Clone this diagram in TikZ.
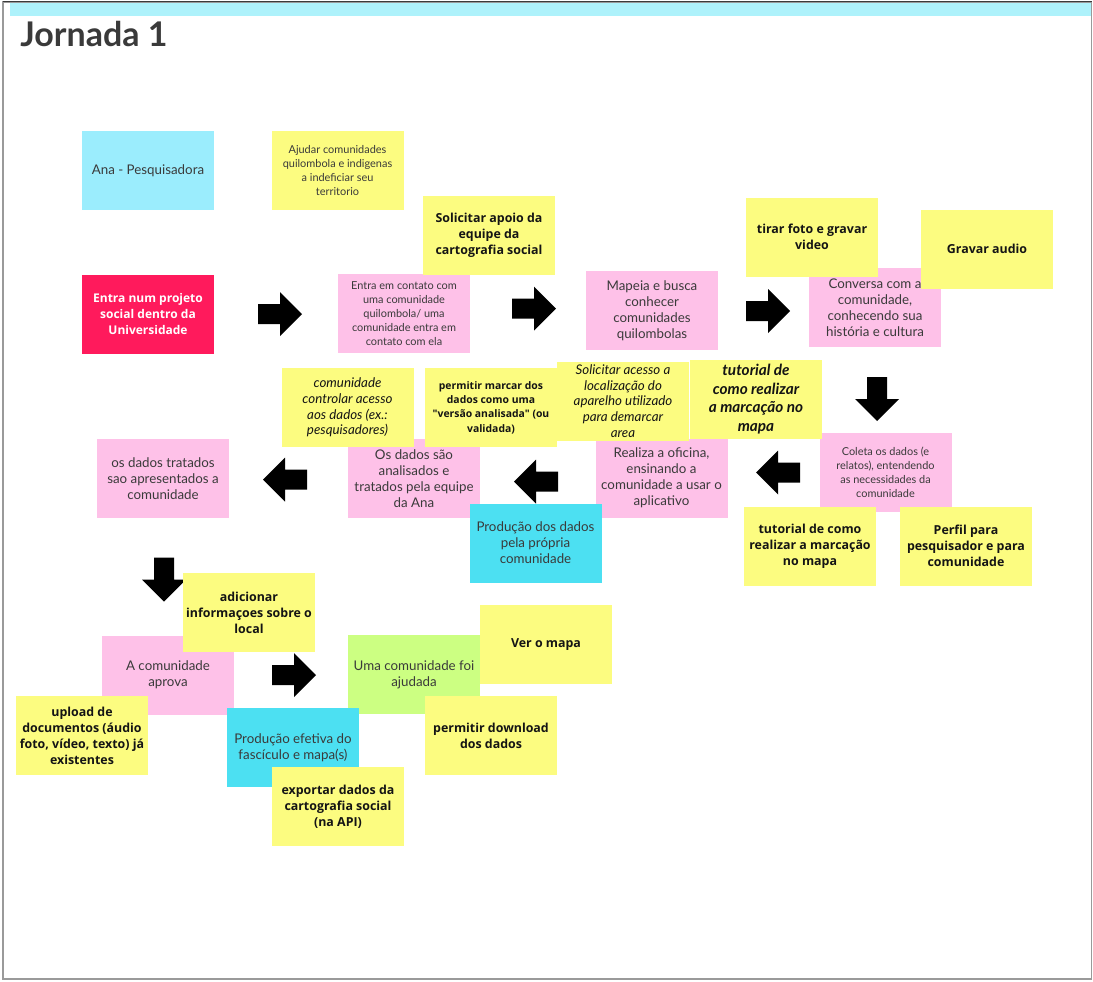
\documentclass[tikz,border=0pt]{standalone}
\usepackage{fontspec}
\setmainfont{Lato}
\newfontfamily\boldfam{Open Sans}
\definecolor{noteyellow}{HTML}{FCFC80}
\definecolor{notepink}{HTML}{FEC1E8}
\definecolor{notered}{HTML}{FF1A5C}
\definecolor{notelcyan}{HTML}{9BEDFD}
\definecolor{notecyan}{HTML}{4CE0F2}
\definecolor{notegreen}{HTML}{CCFF82}
\definecolor{bandcyan}{HTML}{AEF2FB}
\definecolor{framegray}{HTML}{9A9A9A}
\definecolor{txtgray}{HTML}{3A3A3A}
\definecolor{txtdark}{HTML}{141414}
\tikzset{
  note/.style={rectangle, inner sep=0pt, minimum width=99pt, minimum height=59.25pt, align=center, text=txtgray},
  yel/.style={note, fill=noteyellow},
  pnk/.style={note, fill=notepink},
  fnorm/.style={font=\fontsize{10}{12}\selectfont},
  fsmall/.style={font=\fontsize{8.2}{10.5}\selectfont},
  fbold/.style={text=txtdark, font=\boldfam\fontsize{9.3}{12}\selectfont\bfseries},
  fboldsmall/.style={text=txtdark, font=\boldfam\fontsize{7.8}{10.8}\selectfont\bfseries},
  fhand/.style={text=txtdark, font=\fontsize{10}{11.8}\selectfont\itshape},
  fhandbig/.style={text=txtdark, font=\fontsize{11.5}{14}\selectfont\bfseries\itshape},
  barrow/.pic={\fill[black] (-22,-10) -- (0,-10) -- (0,-22) -- (22,0) -- (0,22) -- (0,10) -- (-22,10) -- cycle;}
}
\begin{document}
\begin{tikzpicture}[x=0.75pt,y=-0.75pt]
\useasboundingbox (0,0) rectangle (1093,982);
% frame
\fill[bandcyan] (10,2) rectangle (1091,16);
\draw[framegray, line width=1.2pt] (3,2) rectangle (1091.5,979);
\draw[txtgray, line width=1pt] (3,1.5) -- (1091.5,1.5);
\node[anchor=west, inner sep=0pt, text=txtgray, font=\fontsize{25.5}{30}\selectfont\bfseries] (title) at (20,34) {Jornada 1};

% base notes
\node[note, fill=notelcyan, fnorm] (ana) at (148,170.5) {Ana - Pesquisadora};
\node[yel, fsmall] (ajudar) at (337.5,170.5) {Ajudar comunidades\\quilombola e indigenas\\a indeficiar seu\\territorio};
\node[note, fill=notered, text=white, font=\boldfam\fontsize{9}{12}\selectfont\bfseries] (entra) at (148,314) {Entra num projeto\\social dentro da\\Universidade};
\node[pnk, fsmall] (contato) at (404,313.5) {Entra em contato com\\uma comunidade\\quilombola/ uma\\comunidade entra em\\contato com ela};
\node[pnk, fnorm] (mapeia) at (652,310.5) {Mapeia e busca\\conhecer\\comunidades\\quilombolas};
\node[pnk, fnorm] (conversa) at (875,307.5) {Conversa com a\\comunidade,\\conhecendo sua\\história e cultura};
\node[pnk, fsmall] (coleta) at (885.5,472.5) {Coleta os dados (e\\relatos), entendendo\\as necessidades da\\comunidade};
\node[pnk, fnorm] (realiza) at (661.5,478) {Realiza a oficina,\\ensinando a\\comunidade a usar o\\aplicativo};
\node[pnk, fnorm] (osdados) at (414,478.5) {Os dados são\\analisados e\\tratados pela equipe\\da Ana};
\node[pnk, fnorm] (tratados) at (163,478.5) {os dados tratados\\sao apresentados a\\comunidade};
\node[pnk, fnorm] (aprova) at (168,675) {A comunidade\\aprova};
\node[note, fill=notegreen, fnorm] (ajudada) at (414,674.5) {Uma comunidade foi\\ajudada};

% arrows
\pic (r1) at (280,314) {barrow};
\pic (r2) at (534,308.5) {barrow};
\pic (r3) at (768,311) {barrow};
\pic[rotate=-90] (d1) at (877,399) {barrow};
\pic[rotate=180] (l1) at (778,472.5) {barrow};
\pic[rotate=180] (l2) at (536,481.5) {barrow};
\pic[rotate=180] (l3) at (285,479.5) {barrow};
\pic[rotate=-90] (d2) at (164,579.5) {barrow};
\pic (r4) at (294,675) {barrow};

% cyan notes
\node[note, fill=notecyan, fnorm] (producao) at (535.5,543) {Produção dos dados\\pela própria\\comunidade};
\node[note, fill=notecyan, fnorm] (efetiva) at (293,747.5) {Produção efetiva do\\fascículo e mapa(s)};

% yellow overlay notes
\node[yel, fbold] (solapoio) at (489,235) {Solicitar apoio da\\equipe da\\cartografia social};
\node[yel, fbold] (foto) at (812,237) {tirar foto e gravar\\video};
\node[yel, fbold] (audio) at (987,249) {Gravar audio};
\node[yel, fbold] (tutorialb) at (810,546) {tutorial de como\\realizar a marcação\\no mapa};
\node[yel, fbold] (perfil) at (966,546) {Perfil para\\pesquisador e para\\comunidade};
\node[yel, fhand] (solacesso) at (623,401) {Solicitar acesso a\\localização do\\aparelho utilizado\\para demarcar\\area};
\node[yel, fhandbig] (tutorialh) at (756,399) {tutorial de\\como realizar\\a marcação no\\mapa};
\node[yel, fboldsmall] (marcar) at (491,407.5) {permitir marcar dos\\dados como uma\\"versão analisada" (ou\\validada)};
\node[yel, fhand] (controlar) at (347.5,407.5) {comunidade\\controlar acesso\\aos dados (ex.:\\pesquisadores)};
\node[yel, fbold] (adicionar) at (249,612.5) {adicionar\\informaçoes sobre o\\local};
\node[yel, fbold] (upload) at (82,735.5) {upload de\\documentos (áudio\\foto, vídeo, texto) já\\existentes};
\node[yel, fbold] (exportar) at (338,806.5) {exportar dados da\\cartografia social\\(na API)};
\node[yel, fbold] (vermapa) at (546,644.5) {Ver o mapa};
\node[yel, fbold] (download) at (491,735.5) {permitir download\\dos dados};
\end{tikzpicture}
\end{document}
